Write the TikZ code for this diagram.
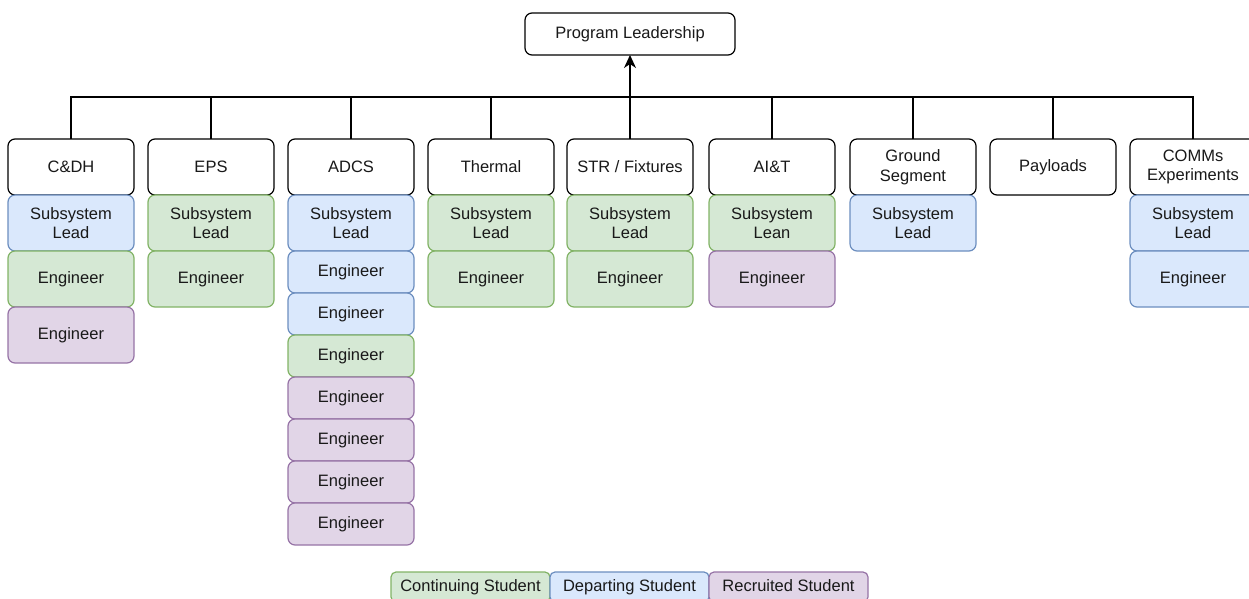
\documentclass[tikz,border=0pt]{standalone}
\usepackage{fontspec}
\setmainfont{Liberation Sans}
\usetikzlibrary{positioning,arrows.meta}
\definecolor{contfill}{HTML}{D5E8D4}
\definecolor{contline}{HTML}{82B366}
\definecolor{depfill}{HTML}{DAE8FC}
\definecolor{depline}{HTML}{6C8EBF}
\definecolor{recfill}{HTML}{E1D5E7}
\definecolor{recline}{HTML}{9673A6}

\begin{document}
\begin{tikzpicture}[x=1pt,y=-1pt,
  every node/.style = {shape=rectangle, rounded corners=7pt,
    draw, align=center, line width=1.2pt, outer sep=0pt, inner sep=2pt,
    text=black!90, font=\fontsize{16.5}{19.5}\selectfont},
  team/.style = {minimum width=126pt, minimum height=56pt, fill=white},
  tall/.style = {minimum width=126pt, minimum height=56pt},
  short/.style = {minimum width=126pt, minimum height=42pt},
  cont/.style = {fill=contfill, draw=contline},
  dep/.style = {fill=depfill, draw=depline},
  rec/.style = {fill=recfill, draw=recline},
  key/.style = {minimum width=159pt, minimum height=30pt, rounded corners=5pt,
    text height=12pt, text depth=4pt}]
  \clip (0,0) rectangle (1249,598);

  \node[minimum width=210pt, minimum height=42pt] (lead) at (630,34) {Program Leadership};

  % subsystem headers
  \foreach \name/\x/\txt in {cdh/71/C\&DH, eps/211/EPS, adcs/351/ADCS,
      thermal/491/Thermal, str/630/{STR / Fixtures}, ait/772/AI\&T,
      ground/913/Ground\\Segment, payloads/1053/Payloads,
      comms/1193/COMMs\\Experiments}
    \node[team] (\name) at (\x,167) {\txt};

  % bus
  \coordinate (busL) at (70,97);
  \coordinate (busR) at (1194,97);
  \draw[line width=1.2pt] (busL) -- (busR);
  \foreach \name in {cdh,eps,adcs,thermal,ait,ground,payloads,comms}
    \draw[line width=1.2pt] (\name.north) -- (\name.north |- busL);
  \draw[line width=1.2pt, -{Stealth[length=13pt,width=12pt,inset=4pt]}] (str.north) -- (lead.south);

  % C&DH
  \node[tall, dep, below=0pt of cdh] (cdh1) {Subsystem\\Lead};
  \node[tall, cont, below=0pt of cdh1] (cdh2) {Engineer};
  \node[tall, rec, below=0pt of cdh2] (cdh3) {Engineer};
  % EPS
  \node[tall, cont, below=0pt of eps] (eps1) {Subsystem\\Lead};
  \node[tall, cont, below=0pt of eps1] (eps2) {Engineer};
  % ADCS
  \node[tall, dep, below=0pt of adcs] (adcs1) {Subsystem\\Lead};
  \node[short, dep, below=0pt of adcs1] (adcs2) {Engineer};
  \node[short, dep, below=0pt of adcs2] (adcs3) {Engineer};
  \node[short, cont, below=0pt of adcs3] (adcs4) {Engineer};
  \node[short, rec, below=0pt of adcs4] (adcs5) {Engineer};
  \node[short, rec, below=0pt of adcs5] (adcs6) {Engineer};
  \node[short, rec, below=0pt of adcs6] (adcs7) {Engineer};
  \node[short, rec, below=0pt of adcs7] (adcs8) {Engineer};
  % Thermal
  \node[tall, cont, below=0pt of thermal] (thermal1) {Subsystem\\Lead};
  \node[tall, cont, below=0pt of thermal1] (thermal2) {Engineer};
  % STR / Fixtures
  \node[tall, cont, below=0pt of str] (str1) {Subsystem\\Lead};
  \node[tall, cont, below=0pt of str1] (str2) {Engineer};
  % AI&T
  \node[tall, cont, below=0pt of ait] (ait1) {Subsystem\\Lean};
  \node[tall, rec, below=0pt of ait1] (ait2) {Engineer};
  % Ground Segment
  \node[tall, dep, below=0pt of ground] (ground1) {Subsystem\\Lead};
  % COMMs Experiments
  \node[tall, dep, below=0pt of comms] (comms1) {Subsystem\\Lead};
  \node[tall, dep, below=0pt of comms1] (comms2) {Engineer};

  % legend
  \node[key, cont] (keycont) at (470.5,587) {Continuing Student};
  \node[key, dep, right=0pt of keycont] (keydep) {Departing Student};
  \node[key, rec, right=0pt of keydep] (keyrec) {Recruited Student};
\end{tikzpicture}
\end{document}
